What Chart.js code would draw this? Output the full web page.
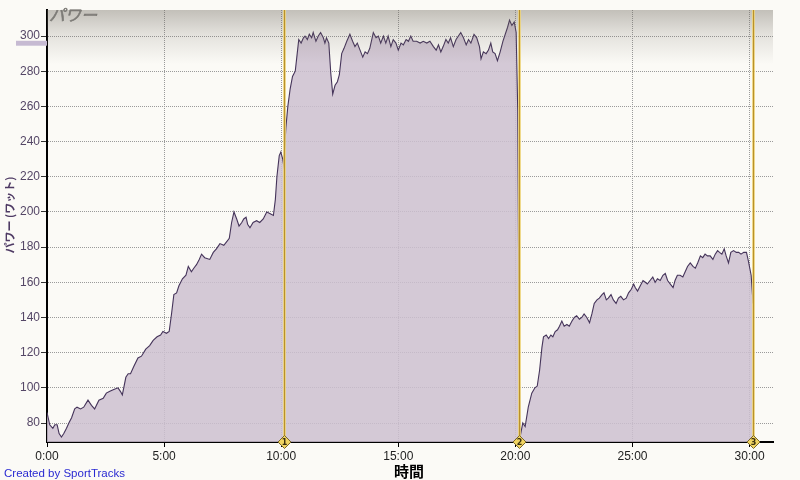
<!DOCTYPE html>
<html>
<head>
<meta charset="utf-8">
<script src="https://cdn.jsdelivr.net/npm/chart.js@4.4.1/dist/chart.umd.min.js"></script>
<style>
  html, body { margin: 0; padding: 0; background: #fbfaf6; }
  #wrap { width: 800px; height: 480px; position: relative; }
</style>
</head>
<body>
<div id="wrap"><canvas id="c" width="800" height="480"></canvas></div>
<script>
// ---- data (time in seconds, power in watts) ----
const timeSec = [0,7,15,20,26,31,37,43,50,56,63,71,77,86,94,105,114,122,133,144,152,161,171,182,188,193,202,208,214,222,233,242,253,263,272,282,291,297,306,313,319,325,332,338,347,356,362,370,376,383,390,396,404,417,426,434,443,453,460,467,473,479,486,492,499,504,510,514,520,528,537,545,554,563,572,580,585,589,595,599,604,606,609,612,617,623,629,636,640,645,651,657,661,667,672,678,682,689,695,701,708,712,716,722,727,732,738,744,749,755,761,768,776,783,789,795,802,809,815,821,827,836,843,849,855,862,868,874,881,887,894,900,907,913,920,926,932,938,947,956,964,973,981,990,997,1003,1009,1015,1022,1028,1034,1041,1048,1054,1060,1067,1074,1080,1086,1094,1101,1108,1112,1118,1125,1131,1137,1142,1148,1154,1161,1168,1174,1180,1185,1191,1197,1202,1206,1209,1212,1219,1225,1233,1242,1250,1256,1262,1268,1272,1279,1285,1291,1296,1302,1308,1313,1319,1325,1332,1338,1345,1351,1357,1364,1370,1376,1383,1390,1396,1402,1409,1415,1422,1427,1433,1438,1445,1451,1458,1464,1470,1477,1484,1490,1497,1503,1507,1513,1520,1527,1533,1538,1545,1552,1558,1564,1571,1578,1584,1590,1597,1604,1609,1615,1622,1629,1635,1641,1648,1655,1661,1667,1674,1680,1686,1692,1699,1706,1712,1718,1723,1729,1735,1740,1746,1752,1759,1766,1772,1778,1785,1792,1797,1804,1809];
const powerW = [86,79,77,79,79,74,72,74,77,80,83,88,89,88,89,93,90,88,93,94,97,98,99,100,98,96,106,108,108,112,117,118,122,124,127,129,130,132,131,132,142,153,154,158,162,164,169,166,168,170,173,176,174,173,177,179,182,181,183,185,194,200,196,192,194,196,197,193,191,194,195,194,196,200,199,198,207,220,232,234,230,227,237,248,260,270,277,280,288,298,296,299,300,298,301,299,302,297,300,302,299,296,299,296,279,267,272,274,278,290,293,297,301,297,294,296,292,288,291,290,293,302,299,300,296,300,296,300,294,298,296,292,296,295,298,297,300,297,297,296,297,296,297,294,292,295,291,294,298,296,299,294,298,300,302,299,295,298,296,301,299,294,287,291,290,292,296,291,290,286,291,297,301,305,309,306,308,302,258,144,72,80,78,89,97,100,101,110,123,129,130,128,130,129,132,133,135,138,135,136,135,138,140,141,139,140,142,140,137,142,148,150,151,153,154,150,151,153,150,148,151,152,150,151,154,156,159,157,155,158,161,160,159,161,163,160,162,161,164,165,161,159,157,161,164,164,163,166,169,171,169,168,171,175,174,176,175,175,173,176,178,177,176,179,175,171,177,178,177,177,176,177,177,172,164,148];
const xTickValues = [0, 300, 600, 900, 1200, 1500, 1800];
const xTickLabels = ['0:00','5:00','10:00','15:00','20:00','25:00','30:00'];
const yTickValues = [80,100,120,140,160,180,200,220,240,260,280,300];
const lapTimes = [607, 1208, 1810];
const lapNames = ['1','2','3'];
const avgBand = [294.5, 297.3];

const dataPoints = timeSec.map((t, i) => ({ x: t, y: powerW[i] }));

const decor = {
  id: 'decor',
  beforeDraw(chart) {
    const ctx = chart.ctx;
    ctx.save();
    ctx.fillStyle = '#fbfaf6';
    ctx.fillRect(0, 0, chart.width, chart.height);
    ctx.restore();
  },
  afterDatasetsDraw(chart) {
    const { ctx, chartArea: a, scales } = chart;
    const xs = scales.x, ys = scales.y;
    ctx.save();
    // top gradient
    const g = ctx.createLinearGradient(0, a.top, 0, a.top + 54);
    g.addColorStop(0, 'rgba(110,104,94,0.40)');
    g.addColorStop(0.45, 'rgba(110,104,94,0.17)');
    g.addColorStop(1, 'rgba(110,104,94,0)');
    ctx.fillStyle = g;
    ctx.fillRect(a.left, a.top, a.right - a.left, 54);

    // average band on left
    const by1 = ys.getPixelForValue(avgBand[1]);
    const by2 = ys.getPixelForValue(avgBand[0]);
    ctx.fillStyle = '#c6bad2';
    ctx.fillRect(16, by1, a.left - 16, by2 - by1);

    // lap lines
    lapTimes.forEach(t => {
      const px = Math.round(xs.getPixelForValue(t)) + 0.5;
      ctx.strokeStyle = 'rgba(236,210,120,0.85)';
      ctx.lineWidth = 3;
      ctx.beginPath(); ctx.moveTo(px, a.top); ctx.lineTo(px, a.bottom); ctx.stroke();
      ctx.strokeStyle = '#b8902c';
      ctx.lineWidth = 1;
      ctx.beginPath(); ctx.moveTo(px, a.top); ctx.lineTo(px, a.bottom); ctx.stroke();
    });
    // lap markers
    lapTimes.forEach((t, i) => {
      const px = Math.round(xs.getPixelForValue(t)) + 0.5;
      const py = a.bottom;
      ctx.beginPath();
      ctx.moveTo(px, py - 6.5); ctx.lineTo(px + 6.5, py); ctx.lineTo(px, py + 6.5); ctx.lineTo(px - 6.5, py); ctx.closePath();
      ctx.fillStyle = '#f0d462';
      ctx.fill();
      ctx.strokeStyle = '#7a6628';
      ctx.lineWidth = 1;
      ctx.stroke();
      ctx.fillStyle = '#3a3010';
      ctx.font = 'bold 8px "DejaVu Sans"';
      ctx.textAlign = 'center';
      ctx.textBaseline = 'middle';
      ctx.fillText(lapNames[i], px, py + 0.5);
    });

    // chart title inside plot
    ctx.fillStyle = '#7c7a76';
    ctx.strokeStyle = '#7c7a76';
    ctx.lineWidth = 0.6;
    ctx.font = 'italic 16px "Noto Sans CJK JP"';
    ctx.textAlign = 'left';
    ctx.textBaseline = 'top';
    ctx.fillText('パワー', a.left + 2, a.top - 3);
    ctx.strokeText('パワー', a.left + 2, a.top - 3);

    // y axis title
    ctx.save();
    ctx.translate(10, 215);
    ctx.rotate(-Math.PI / 2);
    ctx.fillStyle = '#4e3a64';
    ctx.font = 'bold 11px "Noto Sans CJK JP"';
    ctx.textAlign = 'center';
    ctx.textBaseline = 'middle';
    ctx.fillText('パワー (ワット)', 0, 0);
    ctx.restore();

    // x axis title
    ctx.fillStyle = '#000';
    ctx.font = 'bold 15px "Noto Sans CJK JP"';
    ctx.textAlign = 'center';
    ctx.textBaseline = 'middle';
    ctx.fillText('時間', (a.left + a.right) / 2 - 1, 471);

    // credit
    ctx.fillStyle = '#2a2ad2';
    ctx.font = '11.5px "Liberation Sans"';
    ctx.textAlign = 'left';
    ctx.textBaseline = 'alphabetic';
    ctx.fillText('Created by SportTracks', 4, 477);
    ctx.restore();
  }
};

new Chart(document.getElementById('c'), {
  type: 'line',
  data: {
    datasets: [{
      data: dataPoints,
      borderColor: '#45345a',
      borderWidth: 1.1,
      backgroundColor: 'rgba(205,192,208,0.85)',
      fill: 'start',
      pointRadius: 0,
      tension: 0
    }]
  },
  options: {
    responsive: false,
    animation: false,
    devicePixelRatio: 1,
    layout: { padding: { top: 10, right: 27, left: 0, bottom: 0 } },
    plugins: { legend: { display: false }, tooltip: { enabled: false } },
    scales: {
      x: {
        type: 'linear',
        min: 0,
        max: 1860,
        afterFit(s) { s.height = 38; },
        afterBuildTicks(s) { s.ticks = xTickValues.map(v => ({ value: v })); s.min = 0; s.max = 1860; },
        ticks: {
          autoSkip: false,
          maxRotation: 0,
          padding: 2,
          color: '#222',
          font: { family: 'Liberation Sans', size: 12 },
          callback: (v) => xTickLabels[xTickValues.indexOf(v)]
        },
        grid: { color: '#9a9a9a', lineWidth: 1, drawTicks: true, tickLength: 5, tickColor: '#000', tickWidth: 1 },
        border: { display: true, color: '#000', width: 2, dash: [1, 1] }
      },
      y: {
        min: 69.2,
        max: 314.8,
        afterFit(s) { s.width = 47; },
        afterBuildTicks(s) { s.ticks = yTickValues.map(v => ({ value: v })); s.min = 69.2; s.max = 314.8; },
        ticks: {
          autoSkip: false,
          padding: 1,
          color: '#544666',
          font: { family: 'Liberation Sans', size: 12 }
        },
        grid: { color: '#9a9a9a', lineWidth: 1, drawTicks: true, tickLength: 6, tickColor: '#333', tickWidth: 1 },
        border: { display: true, color: '#000', width: 2, dash: [1, 1] }
      }
    }
  },
  plugins: [decor]
});
</script>
</body>
</html>
